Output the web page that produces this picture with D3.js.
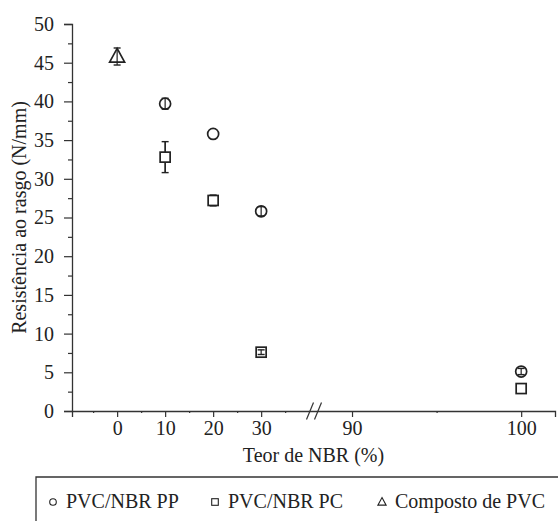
<!DOCTYPE html>
<html>
<head>
<meta charset="utf-8">
<script src="https://cdn.jsdelivr.net/npm/d3@7"></script>
<style>
  body { margin: 0; background: #fff; }
  svg, svg text { font-family: "Liberation Serif", Tinos, "DejaVu Serif", "Noto Serif", serif !important; }
</style>
</head>
<body>
<svg width="558" height="521"></svg>
<script>
// tear resistance vs NBR content
const ppX = [10, 20, 30, 100];
const ppY = [39.7, 35.8, 25.8, 5.1];
const ppErr = [0.7, 0, 0.6, 0.4];

const pcX = [10, 20, 30, 100];
const pcY = [32.8, 27.2, 7.6, 2.9];
const pcErr = [2.0, 0.7, 0.3, 0];

const pvcX = [0];
const pvcY = [45.8];
const pvcErr = [1.1];

const xTicks = [0, 10, 20, 30, 90, 100];
const xMinor = [-5, 5, 15, 25, 35, 95];
const yTicks = [0, 5, 10, 15, 20, 25, 30, 35, 40, 45, 50];
const yMinor = [2.5, 7.5, 12.5, 17.5, 22.5, 27.5, 32.5, 37.5, 42.5, 47.5];

const legendNames = ['PVC/NBR PP', 'PVC/NBR PC', 'Composto de PVC'];

const svg = d3.select('svg');
const ink = '#222';

// broken x axis: piecewise linear scale
const x = d3.scaleLinear()
  .domain([-9.4, 40.8, 87.9, 102])
  .range([72, 313, 316.5, 555]);

const y = d3.scaleLinear()
  .domain([0, 50])
  .range([411, 24]);

const series = [
  { shape: 'circle', xs: ppX, ys: ppY, err: ppErr },
  { shape: 'square', xs: pcX, ys: pcY, err: pcErr },
  { shape: 'triangle', xs: pvcX, ys: pvcY, err: pvcErr }
];

// Axes
svg.append('g')
  .attr('transform', `translate(0,${y(0)})`)
  .call(d3.axisBottom(x).tickValues(xTicks).tickSize(6).tickPadding(4).tickFormat(d3.format('d')));

svg.append('g')
  .attr('transform', `translate(0,${y(0)})`)
  .call(d3.axisBottom(x).tickValues(xMinor).tickSize(2).tickFormat(''))
  .select('.domain').remove();

svg.append('g')
  .attr('transform', `translate(${x.range()[0]},0)`)
  .call(d3.axisLeft(y).tickValues(yTicks).tickSize(8).tickPadding(10).tickFormat(d3.format('d')));

svg.append('g')
  .attr('transform', `translate(${x.range()[0]},0)`)
  .call(d3.axisLeft(y).tickValues(yMinor).tickSize(4).tickFormat(''))
  .select('.domain').remove();

svg.selectAll('g').attr('font-family', null);
svg.selectAll('.domain').attr('stroke', '#333').attr('stroke-width', 1.3);
svg.selectAll('.tick line').attr('stroke', '#333').attr('stroke-width', 1.2);
svg.selectAll('.tick text').attr('fill', ink).style('font-size', '20px');

// break marks
const breakX = [310, 318];
svg.append('g').selectAll('line')
  .data(breakX)
  .join('line')
  .attr('x1', d => d - 3.5)
  .attr('y1', y(0) + 8.5)
  .attr('x2', d => d + 3.5)
  .attr('y2', y(0) - 8.5)
  .attr('stroke', '#333')
  .attr('stroke-width', 1.2);

// Labels
svg.append('text')
  .attr('x', (x.range()[0] + x.range()[3]) / 2)
  .attr('y', 462)
  .attr('text-anchor', 'middle')
  .attr('fill', ink)
  .style('font-size', '20px')
  .text('Teor de NBR (%)');

svg.append('text')
  .attr('transform', `translate(26,${(y(0) + y(50)) / 2}) rotate(-90)`)
  .attr('text-anchor', 'middle')
  .attr('fill', ink)
  .style('font-size', '20px')
  .text('Resistência ao rasgo (N/mm)');

// marker helpers
const half = { circle: 5.5, square: 5, triangle: 6 };

const drawMarker = (g, shape, cx, cy, s) => {
  if (shape === 'circle') {
    g.append('circle').attr('cx', cx).attr('cy', cy).attr('r', s);
  } else if (shape === 'square') {
    g.append('rect').attr('x', cx - s).attr('y', cy - s).attr('width', 2 * s).attr('height', 2 * s);
  } else {
    g.append('path').attr('d', `M${cx},${cy - s * 1.35}L${cx + s * 1.25},${cy + s * 0.95}L${cx - s * 1.25},${cy + s * 0.95}Z`);
  }
};

const plot = svg.append('g');

series.forEach(s => {
  s.xs.forEach((xv, i) => {
    const cx = x(xv);
    const cy = y(s.ys[i]);
    const h = half[s.shape];
    const g = plot.append('g')
      .attr('fill', '#fff')
      .attr('stroke', ink)
      .attr('stroke-width', 1.7);
    drawMarker(g, s.shape, cx, cy, h);
    if (!s.err[i]) return;
    const top = y(s.ys[i] + s.err[i]);
    const bot = y(s.ys[i] - s.err[i]);
    // stem through small markers, outside only for large bars
    if (s.shape === 'triangle' || (bot - top) / 2 < h) {
      g.append('line').attr('x1', cx).attr('x2', cx).attr('y1', top).attr('y2', bot).attr('stroke-width', 1.2);
    } else {
      g.append('line').attr('x1', cx).attr('x2', cx).attr('y1', top).attr('y2', cy - h);
      g.append('line').attr('x1', cx).attr('x2', cx).attr('y1', cy + h).attr('y2', bot);
    }
    [top, bot].forEach(yy => {
      g.append('line').attr('x1', cx - 3.5).attr('x2', cx + 3.5).attr('y1', yy).attr('y2', yy).attr('stroke-width', 1.4);
    });
  });
});

// Legend
const legend = svg.append('g');
legend.append('path')
  .attr('d', 'M36,521V477H558')
  .attr('fill', 'none')
  .attr('stroke', '#333')
  .attr('stroke-width', 1.3);

const legendX = [53, 215, 382];
const legendShapes = ['circle', 'square', 'triangle'];
legendNames.forEach((name, i) => {
  const g = legend.append('g').attr('fill', 'none').attr('stroke', ink).attr('stroke-width', 1.1);
  drawMarker(g, legendShapes[i], legendX[i], 502, 3.3);
  legend.append('text')
    .attr('x', legendX[i] + 13)
    .attr('y', 508)
    .attr('fill', ink)
    .style('font-size', '20px')
    .text(name);
});
</script>
</body>
</html>
